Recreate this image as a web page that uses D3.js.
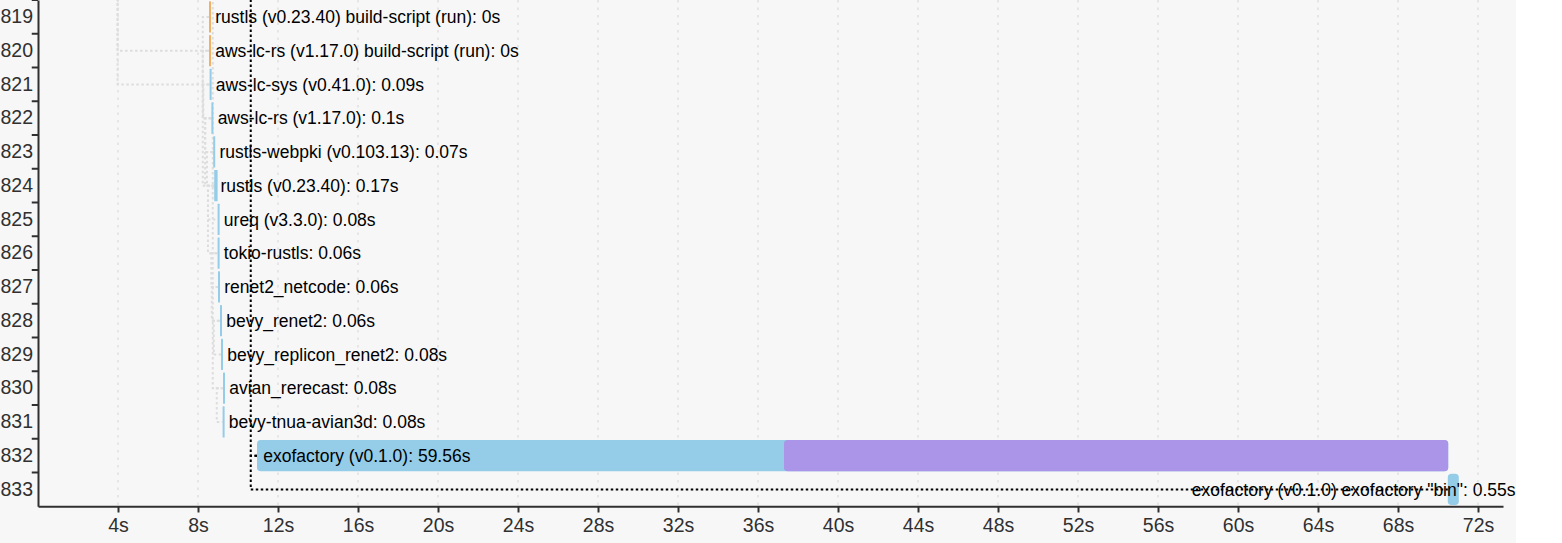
<!DOCTYPE html>
<html>
<head>
<meta charset="utf-8">
<script src="https://cdn.jsdelivr.net/npm/d3@7"></script>
<style>
  body { margin: 0; background: #fff; }
  svg { display: block; }
</style>
</head>
<body>
<svg width="1562" height="543"></svg>
<script>

// rows of the build timeline that are visible
let rowIds = [819, 820, 821, 822, 823, 824, 825, 826, 827, 828, 829, 830, 831, 832, 833];

let unitNames = [
  'rustls (v0.23.40)', 'aws-lc-rs (v1.17.0)', 'aws-lc-sys (v0.41.0)', 'aws-lc-rs (v1.17.0)',
  'rustls-webpki (v0.103.13)', 'rustls (v0.23.40)', 'ureq (v3.3.0)', 'tokio-rustls',
  'renet2_netcode', 'bevy_renet2', 'bevy_replicon_renet2', 'avian_rerecast',
  'bevy-tnua-avian3d', 'exofactory (v0.1.0)', 'exofactory (v0.1.0)'
];

let unitTargets = [
  ' build-script (run)', ' build-script (run)', '', '', '', '', '', '', '', '', '', '', '', '',
  ' exofactory "bin"'
];

let startTimes = [8.55, 8.55, 8.58, 8.67, 8.76, 8.81, 8.98, 8.98, 9.0, 9.1, 9.15, 9.25, 9.23, 10.95, 70.49];

let durations = [0, 0, 0.09, 0.1, 0.07, 0.17, 0.08, 0.06, 0.06, 0.06, 0.08, 0.08, 0.08, 59.56, 0.55];

let codegenStarts = [null, null, null, null, null, null, null, null, null, null, null, null, null, 37.3, null];

let isBuildRun = [true, true, false, false, false, false, false, false, false, false, false, false, false, false, false];

// dependency links: [from row, from start (s), to row, highlighted]
let links = [
  [805, 4.29, 820, false],
  [805, 4.29, 821, false],
  [819, 8.55, 824, false],
  [820, 8.55, 822, false],
  [821, 8.58, 822, false],
  [822, 8.67, 823, false],
  [822, 8.67, 824, false],
  [823, 8.76, 824, false],
  [824, 8.81, 825, false],
  [824, 8.81, 826, false],
  [826, 8.98, 827, false],
  [827, 9.0, 828, false],
  [828, 9.1, 829, false],
  [810, 9.05, 830, false],
  [830, 9.25, 831, false],
  [800, 10.95, 832, true],
  [832, 10.95, 833, true]
];

let xTicks = d3.range(4, 73, 4);

let svg = d3.select('svg');

let xScale = d3.scaleLinear()
               .domain([0, 73.25])
               .range([38, 1503]);

let yScale = d3.scaleBand()
               .domain(rowIds)
               .range([0, 506.25]);

let step = yScale.step();

function rowTop(id) {
  return yScale(rowIds[0]) + (id - rowIds[0]) * step;
}
function rowMid(id) {
  return rowTop(id) + step / 2;
}

svg.append('rect')
   .attr('x', 0)
   .attr('y', 0)
   .attr('width', 1516)
   .attr('height', 543)
   .attr('fill', '#f7f7f7');

// grid
svg.selectAll('line.grid')
   .data(xTicks)
   .enter()
   .append('line')
   .attr('class', 'grid')
   .attr('x1', d => xScale(d))
   .attr('x2', d => xScale(d))
   .attr('y1', 0)
   .attr('y2', 506)
   .attr('stroke', '#e6e6e6')
   .attr('stroke-width', 2)
   .attr('stroke-dasharray', '2.5 5');

function linkPath(d) {
  let fx = xScale(d[1]);
  let tx = xScale(startTimes[rowIds.indexOf(d[2])]);
  let p = d3.path();
  p.moveTo(fx, rowMid(d[0]));
  p.lineTo(fx - 6.25, rowMid(d[0]));
  p.lineTo(fx - 6.25, rowMid(d[2]));
  p.lineTo(tx, rowMid(d[2]));
  return p.toString();
}

svg.selectAll('path.dep')
   .data(links.filter(d => !d[3]))
   .enter()
   .append('path')
   .attr('class', 'dep')
   .attr('d', linkPath)
   .attr('fill', 'none')
   .attr('stroke', '#ddd')
   .attr('stroke-width', 2)
   .attr('stroke-dasharray', '2.5 2.5');

// unit boxes
let units = rowIds.map(function(id, i) {
  return {
    id: id,
    label: unitNames[i] + unitTargets[i] + ': ' + durations[i] + 's',
    start: startTimes[i],
    dur: durations[i],
    codegen: codegenStarts[i],
    run: isBuildRun[i]
  };
});

svg.selectAll('rect.unit')
   .data(units)
   .enter()
   .append('rect')
   .attr('class', 'unit')
   .attr('x', d => xScale(d.start))
   .attr('y', d => yScale(d.id) + 1.25)
   .attr('width', d => Math.max(xScale(d.start + d.dur) - xScale(d.start), 2))
   .attr('height', step - 2.5)
   .attr('rx', d => (xScale(d.start + d.dur) - xScale(d.start)) > 8 ? 3.75 : 0.5)
   .attr('fill', d => d.run ? '#f0b165' : '#95cce8');

svg.selectAll('rect.codegen')
   .data(units.filter(d => d.codegen !== null))
   .enter()
   .append('rect')
   .attr('class', 'codegen')
   .attr('x', d => xScale(d.codegen))
   .attr('y', d => yScale(d.id) + 1.25)
   .attr('width', d => xScale(d.start + d.dur) - xScale(d.codegen))
   .attr('height', step - 2.5)
   .attr('rx', 3.75)
   .attr('fill', '#aa95e8');

svg.selectAll('text.label')
   .data(units)
   .enter()
   .append('text')
   .attr('class', 'label')
   .attr('x', d => xScale(d.start) + 6.25)
   .attr('y', d => yScale(d.id) + step / 2)
   .attr('dy', '0.35em')
   .style('font-family', '"Liberation Sans", Arial, sans-serif')
   .style('font-size', '17.5px')
   .style('fill', '#000')
   .text(d => d.label)
   .each(function(d) {
     let w = this.getComputedTextLength();
     let lx = Math.min(xScale(d.start) + 6.25, 1515.5 - w);
     d3.select(this).attr('x', lx);
   });

// highlighted dependency lines
svg.selectAll('path.dephi')
   .data(links.filter(d => d[3]))
   .enter()
   .append('path')
   .attr('class', 'dephi')
   .attr('d', linkPath)
   .attr('fill', 'none')
   .attr('stroke', '#000')
   .attr('stroke-width', 2)
   .attr('stroke-dasharray', '2.5 2.5');

// axes
let xAxis = d3.axisBottom(xScale)
              .tickValues(xTicks)
              .tickFormat(d => d + 's')
              .tickSize(6.25)
              .tickSizeOuter(0)
              .tickPadding(6);

let xAxisG = svg.append('g')
                .attr('id', 'xAxisG')
                .attr('transform', 'translate(0,506.25)')
                .call(xAxis);

let yAxis = d3.axisLeft(yScale)
              .tickSize(0)
              .tickSizeOuter(0)
              .tickPadding(5);

let yAxisG = svg.append('g')
                .attr('id', 'yAxisG')
                .attr('transform', 'translate(38,0)')
                .call(yAxis);

yAxisG.selectAll('line.rowtick')
      .data(rowIds)
      .enter()
      .append('line')
      .attr('class', 'rowtick')
      .attr('x1', -6.25)
      .attr('x2', 0)
      .attr('y1', d => yScale(d))
      .attr('y2', d => yScale(d))
      .attr('stroke', '#303030')
      .attr('stroke-width', 2);

[xAxisG, yAxisG].forEach(function(g) {
  g.select('.domain')
   .attr('stroke', '#303030')
   .attr('stroke-width', 2);
  g.selectAll('.tick line')
   .attr('stroke', '#303030')
   .attr('stroke-width', 2);
  g.selectAll('.tick text')
   .style('font-family', '"Liberation Sans", Arial, sans-serif')
   .style('font-size', '19.5px')
   .style('fill', '#303030');
});

</script>
</body>
</html>
